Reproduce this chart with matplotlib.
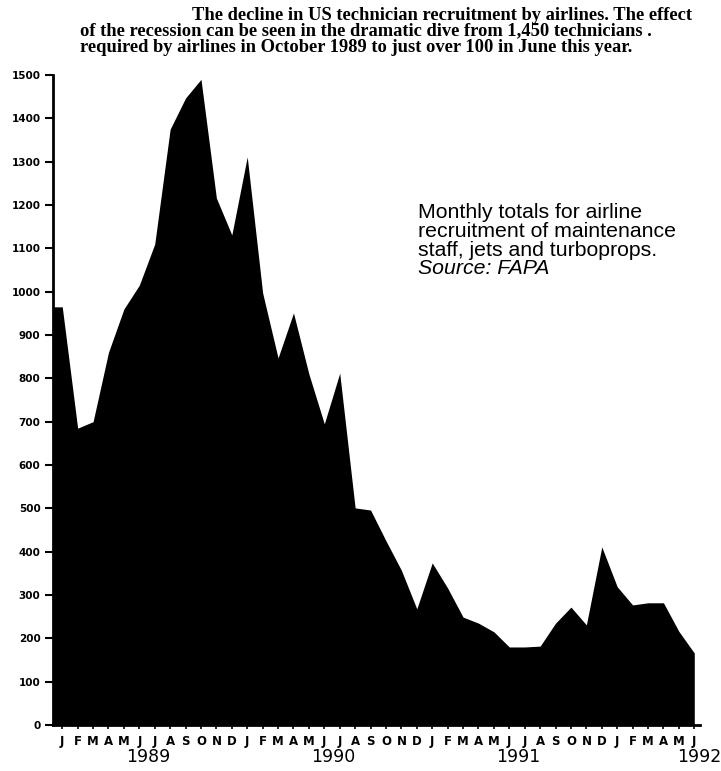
import numpy as np
import matplotlib.pyplot as plt
from matplotlib import transforms

# Monthly airline technician recruitment, Jan 1989 - Jun 1992
month_letters = ["J", "F", "M", "A", "M", "J", "J", "A", "S", "O", "N", "D"]
recruits_1989 = [965, 685, 700, 860, 960, 1015, 1110, 1375, 1447, 1490, 1216, 1131]
recruits_1990 = [1311, 997, 847, 951, 810, 695, 812, 501, 496, 425, 357, 268]
recruits_1991 = [374, 316, 249, 235, 215, 180, 180, 182, 235, 272, 231, 411]
recruits_1992 = [319, 277, 282, 282, 216, 166]
years = ["1989", "1990", "1991", "1992"]
y_ticks = list(range(0, 1501, 100))

caption_lines = [
    "The decline in US technician recruitment by airlines. The effect",
    "of the recession can be seen in the dramatic dive from 1,450 technicians .",
    "required by airlines in October 1989 to just over 100 in June this year.",
]
note_lines = [
    "Monthly totals for airline",
    "recruitment of maintenance",
    "staff, jets and turboprops.",
]
source = "Source: FAPA"

per_year = [recruits_1989, recruits_1990, recruits_1991, recruits_1992]
values = np.concatenate(per_year)
x = np.arange(len(values))
labels = [month_letters[i % 12] for i in range(len(values))]

x_left, x_right = -0.6, len(values) - 1 + 0.4

W, H = 721, 771
fig = plt.figure(figsize=(W / 100, H / 100), dpi=100)
ax = fig.add_axes([0.0735, 0.0597, 0.898, 0.843])

# fill reaches the y axis, first value carried back to it
ax.fill_between(np.r_[x_left, x], np.r_[values[0], values], 0,
                color="black", linewidth=0)

ax.set_xlim(x_left, x_right)
ax.set_ylim(0, 1500)
ax.set_yticks(y_ticks)
ax.set_yticklabels([str(v) for v in y_ticks], fontsize=7.5,
                   fontweight="heavy", family="DejaVu Sans")
ax.set_xticks(x)
ax.set_xticklabels(labels, fontsize=8.5, fontweight="heavy", family="DejaVu Sans")
ax.tick_params(axis="y", length=6, width=1.5, pad=3)
ax.tick_params(axis="x", length=3, width=1.2, pad=4)

for side in ["top", "right"]:
    ax.spines[side].set_visible(False)
for side in ["left", "bottom"]:
    ax.spines[side].set_linewidth(2)

# year labels under the month letters
trans = transforms.blended_transform_factory(ax.transData, fig.transFigure)
start = 0
for yr, vals in zip(years, per_year):
    if len(vals) == 12:
        xpos = start + 5.6
    else:
        xpos = start + len(vals) - 0.7
    ax.text(xpos, 1 - 757 / H, yr, transform=trans, ha="center", va="center",
            fontsize=12.5, family="DejaVu Sans")
    start += len(vals)

# caption, first line indented like the original
cap_x = [192, 80, 80]
cap_y = [15, 31, 47]
for line, cx, cy in zip(caption_lines, cap_x, cap_y):
    fig.text(cx / W, 1 - cy / H, line, ha="left", va="center", fontsize=13.3,
             fontweight="bold", family="Liberation Serif")

for i, line in enumerate(note_lines + [source]):
    fig.text(418 / W, 1 - (213 + 18.5 * i) / H, line, ha="left", va="center",
             fontsize=15.3, family="Liberation Sans",
             style="italic" if line == source else "normal")

fig.savefig("out.png", dpi=100)
